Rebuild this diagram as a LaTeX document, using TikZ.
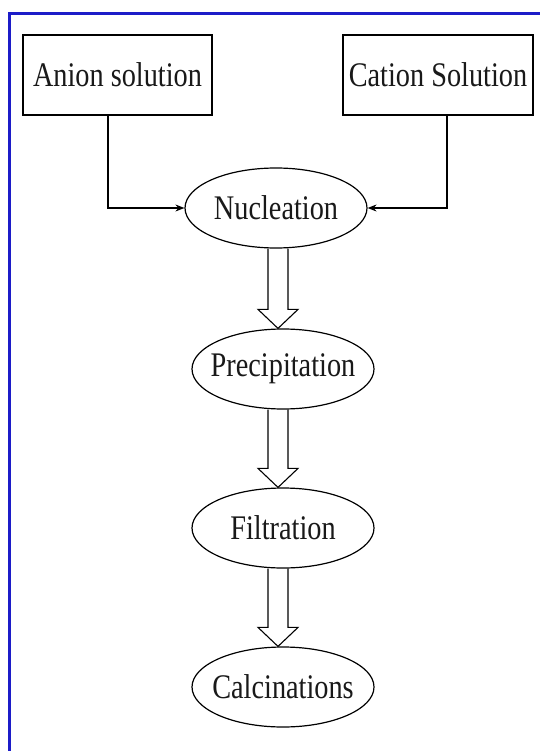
\documentclass[tikz,border=0pt]{standalone}
\usepackage{fontspec}
\setmainfont[FakeStretch=0.82]{Liberation Serif}
\usetikzlibrary{arrows.meta,shapes.geometric,calc}
\definecolor{framblue}{RGB}{28,28,200}
\tikzset{
  every node/.style={font=\fontsize{34.5}{40}\selectfont, text=black!90},
  solbox/.style={draw, line width=1.2pt, minimum height=80pt, inner sep=0pt},
  stepell/.style={draw, ellipse, line width=1.2pt, minimum width=182pt, minimum height=80pt, inner sep=0pt},
  feed/.style={line width=1.1pt, -{Stealth[length=9pt,width=7pt]}},
  hollow/.style={line width=1.1pt, line join=miter},
  frameline/.style={draw=framblue, line width=3pt}
}
\newcommand{\hollowarr}[2]{%
  \draw[hollow] let \p1=(#1.south), \p2=(#2.north) in
    (268,\y1) -- (268,\y2+19pt) -- (258,\y2+19pt) -- (278,\y2) --
    (298,\y2+19pt) -- (288,\y2+19pt) -- (288,\y1);}
\begin{document}
\begin{tikzpicture}[x=1pt,y=-1pt]
\useasboundingbox (0,0) rectangle (540,751);
\fill[white] (0,0) rectangle (540,751);
\draw[frameline] (9,751) -- (9,14) -- (540,14);

\node[solbox, minimum width=189pt] (anion) at (117.5,75) {Anion solution};
\node[solbox, minimum width=190pt] (cation) at (438,75) {Cation Solution};

\node[stepell] (nuc) at (276,208) {\makebox[0pt]{Nucleation}};
\node[stepell] (pre) at (283,369) {\makebox[0pt]{Precipitation}};
\node[stepell] (fil) at (283,528) {\makebox[0pt]{Filtration}};
\node[stepell] (cal) at (283,687) {\makebox[0pt]{Calcinations}};

\draw[feed] ([xshift=-9.5pt]anion.south) |- (nuc.west);
\draw[feed] ([xshift=9pt]cation.south) |- (nuc.east);

\hollowarr{nuc}{pre}
\hollowarr{pre}{fil}
\hollowarr{fil}{cal}
\end{tikzpicture}
\end{document}
